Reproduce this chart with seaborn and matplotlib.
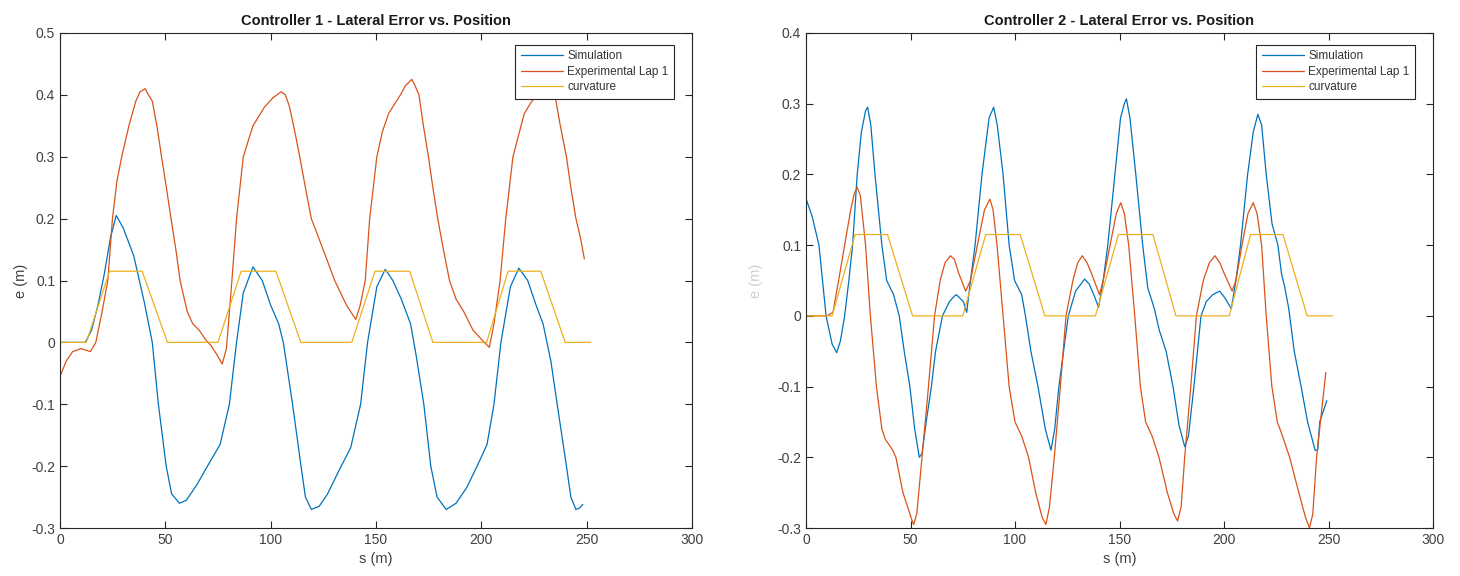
import matplotlib
matplotlib.use("Agg")
import matplotlib.pyplot as plt
import seaborn as sns
import pandas as pd
from matplotlib.ticker import FuncFormatter

# ---------------- data ----------------
curv_s = [0, 12.5, 23.5, 39, 51, 75, 86, 102.5, 114.3, 138.5, 149.5, 166, 177, 202.5, 212.7, 228.2, 239.8, 252]
curv_k = [0, 0, 0.115, 0.115, 0, 0, 0.115, 0.115, 0, 0, 0.115, 0.115, 0, 0, 0.115, 0.115, 0, 0]

c1_sim_s = [0, 12, 15, 18, 21, 24, 26.7, 30, 35, 40, 43.8, 46.7, 50.4, 53, 56.7, 60, 65, 70, 76,
            80.4, 83.8, 87, 91.6, 96, 100, 103.8, 106, 110.4, 114.4, 116.5, 119.3, 123, 127, 132, 138,
            142.7, 146, 150.4, 154.4, 158, 162, 166.4, 169, 172.7, 176, 179, 183.3, 188, 193, 198, 202.7,
            206, 209.3, 213.8, 217.8, 222, 226, 229.3, 233, 236, 240.4, 242.5, 244.9, 246.5, 248.2]
c1_sim_e = [0, 0, 0.02, 0.06, 0.11, 0.17, 0.205, 0.185, 0.14, 0.065, 0.0, -0.1, -0.2, -0.245, -0.26,
            -0.255, -0.23, -0.2, -0.165, -0.1, 0.0, 0.08, 0.122, 0.1, 0.06, 0.03, 0.0, -0.1, -0.2, -0.25,
            -0.27, -0.265, -0.245, -0.21, -0.17, -0.1, 0.0, 0.09, 0.118, 0.1, 0.07, 0.03, -0.02, -0.1, -0.2,
            -0.25, -0.27, -0.26, -0.235, -0.2, -0.165, -0.1, 0.0, 0.09, 0.12, 0.1, 0.06, 0.03, -0.03, -0.1,
            -0.2, -0.25, -0.27, -0.268, -0.262]

c1_exp_s = [0, 3, 6, 10, 14.4, 17, 20, 22.7, 24.9, 27, 29.3, 32.7, 36, 38, 40.4, 42, 43.8, 46, 48.2,
            50.5, 52.7, 55, 57, 60.4, 63, 66, 69, 71.6, 74.5, 77, 79, 81.6, 83.8, 87, 91.6, 97, 101, 104.9,
            107, 109, 111.5, 113.8, 116.5, 119.3, 124.9, 130.4, 136, 140.4, 142.5, 144.9, 147, 150.4, 153,
            156, 161.6, 164, 167, 168.5, 170.4, 172.5, 174.9, 177, 179.3, 182, 184.9, 188, 191.6, 196, 200,
            203.8, 206, 208.9, 211.6, 215, 220.4, 224, 227, 230, 232.5, 234.9, 237.5, 240.4, 242.5, 244.9,
            247, 248.9]
c1_exp_e = [-0.055, -0.03, -0.015, -0.01, -0.015, 0.0, 0.05, 0.1, 0.2, 0.26, 0.3, 0.35, 0.39, 0.405,
            0.41, 0.4, 0.39, 0.35, 0.3, 0.25, 0.2, 0.15, 0.1, 0.05, 0.03, 0.02, 0.005, -0.005, -0.02, -0.035,
            -0.01, 0.1, 0.2, 0.3, 0.35, 0.38, 0.395, 0.405, 0.4, 0.38, 0.34, 0.3, 0.25, 0.2, 0.15, 0.1, 0.06,
            0.037, 0.06, 0.1, 0.2, 0.3, 0.34, 0.37, 0.4, 0.415, 0.425, 0.415, 0.4, 0.35, 0.3, 0.25, 0.2, 0.15,
            0.1, 0.07, 0.05, 0.02, 0.005, -0.008, 0.03, 0.1, 0.2, 0.3, 0.37, 0.39, 0.4, 0.41, 0.41, 0.4, 0.35,
            0.3, 0.25, 0.2, 0.17, 0.135]

c2_sim_s = [0, 3, 6.2, 9.6, 12.5, 14.7, 16.5, 18.5, 20.5, 22.3, 24.5, 26.5, 28.5, 29.5, 31, 33, 36.3,
            38.6, 41.9, 44.6, 47, 49.7, 52, 54.2, 55.5, 57.5, 60, 62, 65.3, 68.6, 71, 72, 75.3, 76.9, 78.7,
            80.9, 84.2, 87.6, 89.8, 91.5, 94.3, 97.2, 99.8, 103.2, 105, 107.6, 111, 114.5, 117.2, 119, 121,
            125.5, 129, 133.3, 135.5, 137.7, 140, 142.2, 144.4, 147.8, 150.5, 152.3, 153.3, 155, 157.8,
            161.1, 163.5, 166.7, 169, 172.3, 175.6, 178.5, 181.2, 183, 185.6, 189, 191.5, 194.6, 197.9,
            200.5, 203.5, 205.7, 207.9, 211.3, 214, 216.2, 218, 220.2, 223, 225.8, 227.5, 229.1, 231, 233.6,
            236.9, 240, 243.6, 244.8, 245.8, 247.5, 249.2]
c2_sim_e = [0.166, 0.14, 0.1, 0.0, -0.04, -0.052, -0.035, 0.0, 0.05, 0.1, 0.2, 0.26, 0.29, 0.295, 0.27,
            0.2, 0.1, 0.05, 0.03, 0.0, -0.05, -0.1, -0.16, -0.2, -0.195, -0.15, -0.1, -0.05, 0.0, 0.02, 0.028,
            0.03, 0.02, 0.005, 0.05, 0.1, 0.2, 0.28, 0.295, 0.27, 0.2, 0.1, 0.05, 0.03, 0.0, -0.05, -0.1,
            -0.16, -0.19, -0.16, -0.1, 0.0, 0.035, 0.052, 0.045, 0.03, 0.012, 0.05, 0.1, 0.2, 0.28, 0.3, 0.307,
            0.28, 0.2, 0.1, 0.04, 0.01, -0.02, -0.05, -0.1, -0.155, -0.185, -0.17, -0.1, 0.0, 0.02, 0.03,
            0.035, 0.025, 0.01, 0.05, 0.1, 0.2, 0.26, 0.285, 0.27, 0.2, 0.13, 0.1, 0.06, 0.04, 0.01, -0.05,
            -0.1, -0.15, -0.19, -0.19, -0.15, -0.135, -0.12]

c2_exp_s = [0, 10, 12.9, 15.6, 18.5, 21.4, 23, 24.5, 26, 28.5, 30.8, 33.7, 36.3, 38, 39.7, 41.5, 43,
            46.4, 50.8, 51.5, 53, 55.5, 58.6, 61.5, 64.2, 66.5, 69.1, 71, 73.1, 76.4, 78.7, 82, 85.4, 88,
            89.5, 91.4, 94.3, 97.2, 100, 103.2, 106.5, 109.9, 113, 114.8, 116.5, 118.8, 121.7, 124.4, 127.7,
            130, 132.2, 134.5, 136.6, 140.4, 142.2, 145.5, 148.5, 150.6, 152.3, 154.4, 157.3, 160, 162.5,
            165.6, 168.9, 172.9, 176, 177.8, 179.5, 181.2, 184.1, 186.8, 190.1, 193, 195.7, 198, 200.1,
            203.9, 205.7, 208.6, 211.5, 214, 215.8, 218, 220.2, 222.9, 225.5, 228, 231.4, 235.8, 239,
            240.9, 242.5, 244.3, 246.5, 248.7]
c2_exp_e = [0.0, 0.0, 0.005, 0.05, 0.1, 0.15, 0.172, 0.182, 0.17, 0.1, 0.0, -0.1, -0.16, -0.175, -0.182,
            -0.19, -0.2, -0.25, -0.29, -0.295, -0.28, -0.2, -0.1, 0.0, 0.05, 0.075, 0.085, 0.08, 0.06, 0.035,
            0.05, 0.1, 0.15, 0.165, 0.15, 0.1, 0.0, -0.1, -0.15, -0.17, -0.2, -0.25, -0.285, -0.295, -0.27,
            -0.2, -0.1, 0.0, 0.05, 0.075, 0.085, 0.075, 0.06, 0.03, 0.05, 0.1, 0.145, 0.16, 0.145, 0.1, 0.0,
            -0.1, -0.15, -0.17, -0.2, -0.25, -0.28, -0.29, -0.27, -0.2, -0.1, 0.0, 0.05, 0.075, 0.085, 0.075,
            0.06, 0.035, 0.05, 0.1, 0.145, 0.16, 0.145, 0.1, 0.0, -0.1, -0.15, -0.17, -0.2, -0.25, -0.285,
            -0.3, -0.28, -0.2, -0.14, -0.08]

titles = ["Controller 1 - Lateral Error vs. Position", "Controller 2 - Lateral Error vs. Position"]
series_names = ["Simulation", "Experimental Lap 1", "curvature"]
colors = ["#0072BD", "#D95319", "#EDB120"]

# ---------------- style ----------------
sns.set_style("ticks")
plt.rcParams["font.family"] = ["Liberation Sans", "DejaVu Sans"]
plt.rcParams["axes.unicode_minus"] = False

fig = plt.figure(figsize=(14.6, 5.76), dpi=100)
ax1 = fig.add_axes([60 / 1460, 48 / 576, 632 / 1460, 495 / 576])
ax2 = fig.add_axes([806 / 1460, 48 / 576, 627 / 1460, 495 / 576])

panels = [
    (ax1, c1_sim_s, c1_sim_e, c1_exp_s, c1_exp_e, (-0.3, 0.5)),
    (ax2, c2_sim_s, c2_sim_e, c2_exp_s, c2_exp_e, (-0.3, 0.4)),
]

fmt = FuncFormatter(lambda v, p: ("%g" % round(v, 3)))

for i, (ax, ss, se, es, ee, ylim) in enumerate(panels):
    sns.lineplot(x=ss, y=se, ax=ax, color=colors[0], lw=0.9, label=series_names[0], estimator=None, sort=False)
    sns.lineplot(x=es, y=ee, ax=ax, color=colors[1], lw=0.9, label=series_names[1], estimator=None, sort=False)
    sns.lineplot(x=curv_s, y=curv_k, ax=ax, color=colors[2], lw=0.9, label=series_names[2], estimator=None, sort=False)
    ax.set_xlim(0, 300)
    ax.set_ylim(*ylim)
    ax.set_xticks(range(0, 301, 50))
    yt = [round(ylim[0] + 0.1 * k, 1) for k in range(int(round((ylim[1] - ylim[0]) / 0.1)) + 1)]
    ax.set_yticks(yt)
    ax.xaxis.set_major_formatter(fmt)
    ax.yaxis.set_major_formatter(fmt)
    ax.tick_params(direction="in", top=True, right=True, length=5, width=0.8,
                   labelsize=10, colors="#262626", labelcolor="#404040")
    for sp in ax.spines.values():
        sp.set_visible(True)
        sp.set_color("#262626")
        sp.set_linewidth(0.8)
    ax.set_title(titles[i], fontsize=10.5, fontweight="bold", color="#1a1a1a", pad=6)
    ax.set_xlabel("s (m)", fontsize=10.5, color="#404040", labelpad=4)
    leg = ax.legend(loc="upper right", fontsize=8.5, frameon=True, fancybox=False,
                    edgecolor="#262626", framealpha=1.0, handlelength=3.6, handletextpad=0.35,
                    borderaxespad=1.0, borderpad=0.45, labelspacing=0.3,
                    bbox_to_anchor=(0.99, 1.0))
    leg.get_frame().set_linewidth(0.8)
    leg.set_zorder(10)
    for t in leg.get_texts():
        t.set_color("#333333")

ax1.set_ylabel("e (m)", fontsize=10.5, color="#404040", labelpad=2)
ax2.set_ylabel("e (m)", fontsize=10.5, color="#404040", labelpad=10, alpha=0.25)

fig.savefig("out.png", dpi=100, facecolor="white")
